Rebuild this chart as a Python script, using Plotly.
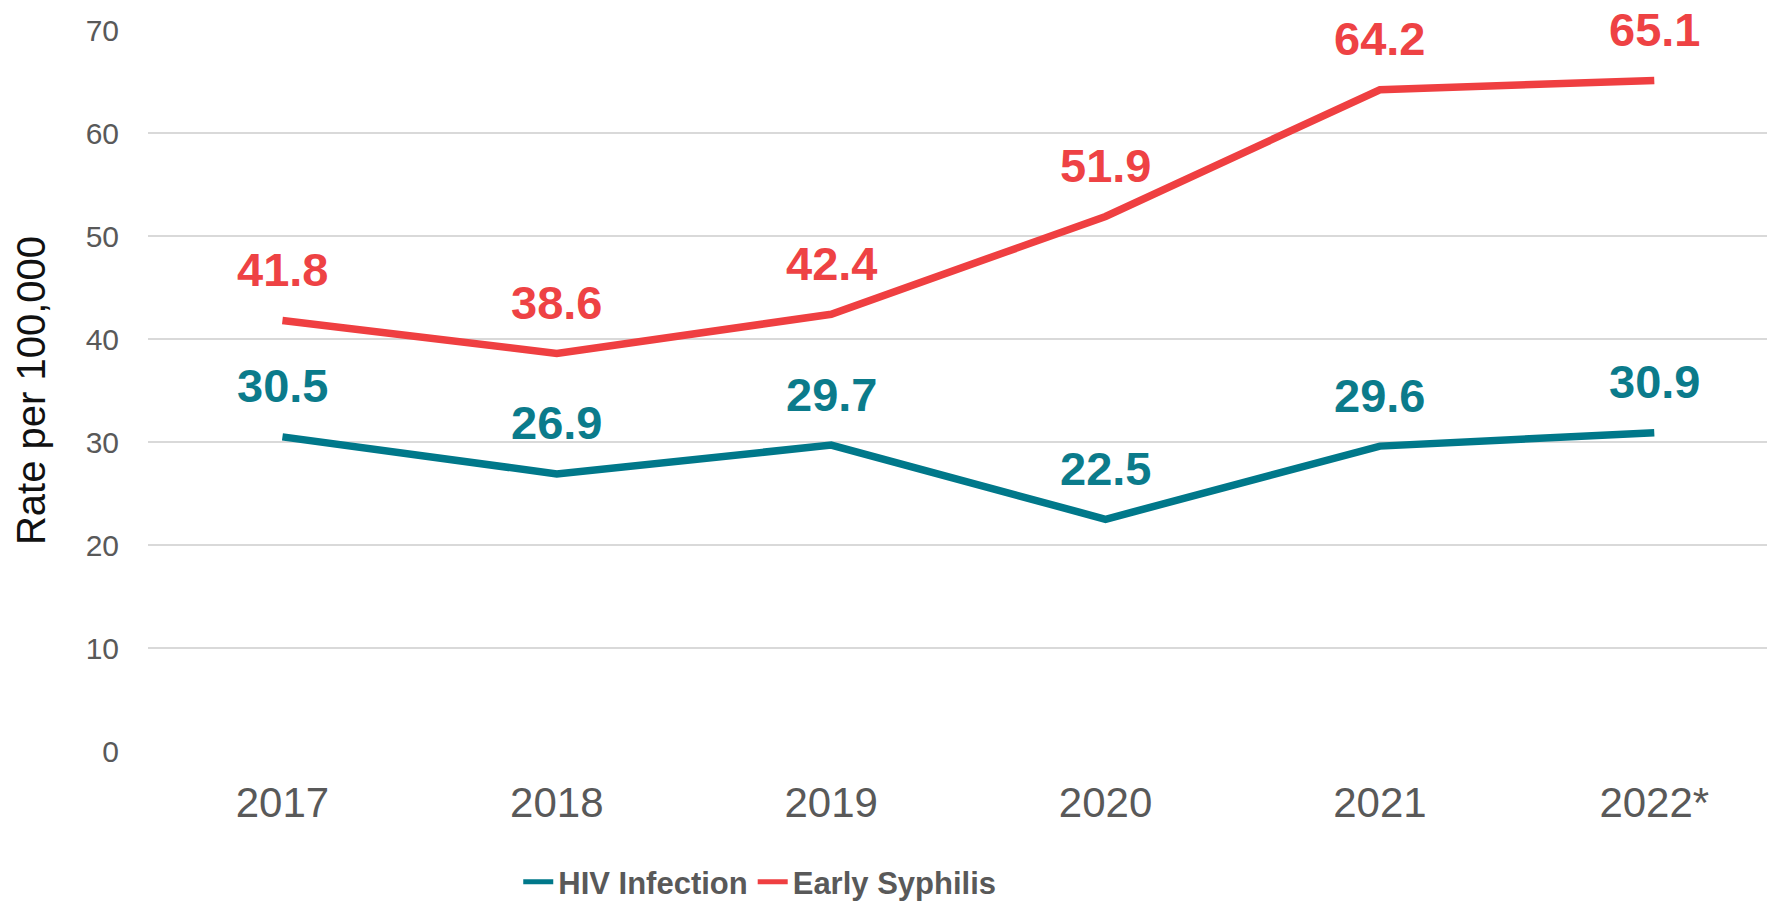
import plotly.graph_objects as go

years = ["2017", "2018", "2019", "2020", "2021", "2022*"]
hiv = [30.5, 26.9, 29.7, 22.5, 29.6, 30.9]
syphilis = [41.8, 38.6, 42.4, 51.9, 64.2, 65.1]
y_ticks = [0, 10, 20, 30, 40, 50, 60, 70]

TEAL = "#00788A"
RED = "#EF3F41"
TEAL_TXT = "#0B7B8B"
RED_TXT = "#EE4244"

fig = go.Figure()
fig.add_trace(go.Scatter(x=years, y=hiv, mode="lines", name="HIV Infection",
                         line=dict(color=TEAL, width=7.5)))
fig.add_trace(go.Scatter(x=years, y=syphilis, mode="lines", name="Early Syphilis",
                         line=dict(color=RED, width=7.5)))

for ys, c in [(hiv, TEAL_TXT), (syphilis, RED_TXT)]:
    for i, yv in enumerate(ys):
        fig.add_annotation(x=i, y=yv, xref="x", yref="y", text=f"{yv:.1f}", showarrow=False,
                           yshift=51, xanchor="center", yanchor="middle", borderpad=0,
                           font=dict(family="Liberation Sans, Arial", size=47, color=c, weight="bold"))

fig.update_layout(
    width=1767, height=896,
    margin=dict(l=140, r=0, t=22, b=153, autoexpand=False),
    plot_bgcolor="white", paper_bgcolor="white",
    font=dict(family="Liberation Sans, Arial", color="#595959"),
    showlegend=True,
    legend=dict(orientation="h", x=0.376, xanchor="center", y=-0.182, yanchor="middle",
                font=dict(family="Liberation Sans, Arial", size=31,
                          color="#595959", weight="bold"),
                itemwidth=30, tracegroupgap=0, itemsizing="constant"),
)
fig.update_xaxes(type="category", range=[-0.49, 5.44], showgrid=False, zeroline=False,
                 showline=False, ticks="", tickfont=dict(size=42, color="#595959"),
                 ticklabelstandoff=23, automargin=False)
fig.update_yaxes(range=[0, 70], tickvals=y_ticks, showgrid=True, gridcolor="#D9D9D9",
                 gridwidth=2, zeroline=False, showline=False, ticks="",
                 tickfont=dict(size=30, color="#595959"), ticklabelstandoff=28,
                 automargin=False,
                 title=dict(text="Rate per 100,000", font=dict(size=40, color="#111111"),
                            standoff=27))

fig.write_html("out.html")
